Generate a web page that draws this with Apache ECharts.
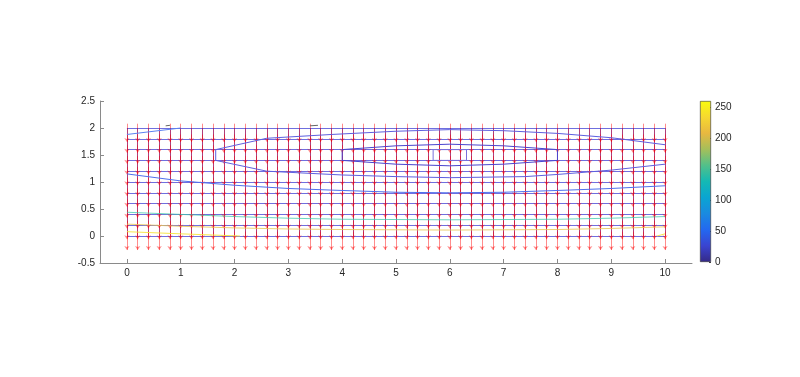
<!DOCTYPE html>
<html>
<head>
<meta charset="utf-8">
<script src="https://cdn.jsdelivr.net/npm/echarts@6/dist/echarts.min.js"></script>
<style>
html,body{margin:0;padding:0;background:#fff;}
#chart{width:800px;height:377px;}
</style>
</head>
<body>
<div id="chart"></div>
<script>
// ---- tick labels ----
const xTicks = [0,1,2,3,4,5,6,7,8,9,10];
const yTicks = [-0.5,0,0.5,1,1.5,2,2.5];
const colorTicks = [0,50,100,150,200,250];
const colorMin = 0, colorMax = 260;

// ---- mesh grid (x, y nodes) ----
const meshX = [0,0.2,0.4,0.6,0.8,1,1.2,1.4,1.6,1.8,2,2.2,2.4,2.6,2.8,3,3.2,3.4,3.6,3.8,4,4.2,4.4,4.6,4.8,5,5.2,5.4,5.6,5.8,6,6.2,6.4,6.6,6.8,7,7.2,7.4,7.6,7.8,8,8.2,8.4,8.6,8.8,9,9.2,9.4,9.6,9.8,10];
const meshY = [0,0.2,0.4,0.6,0.8,1,1.2,1.4,1.6,1.8,2];

// ---- quiver: arrow start heights per row and vertical component ----
const quiverStartY = [0.08,0.28,0.48,0.68,0.88,1.08,1.28,1.48,1.68,1.88,2.08];
const quiverV = [-0.34,-0.34,-0.34,-0.34,-0.34,-0.34,-0.34,-0.34,-0.34,-0.34,-0.34];

// ---- contour lines ----
const contourA = [[0,1.88],[1,2.0]];
const contourB = [[10,1.69],[9,1.82],[8,1.9],[7,1.95],[6,1.97],[5,1.94],[3.8,1.88],[2.6,1.81],[1.65,1.6],
                  [1.65,1.4],[2.6,1.2],[4,1.13],[5,1.1],[6,1.08],[7.4,1.1],[8,1.14],[9,1.22],[10,1.33]];
const contourC = [[4,1.6],[5,1.67],[6,1.7],[7,1.67],[8,1.6],[8,1.4],[7,1.33],[6,1.3],[5,1.33],[4,1.4],[4,1.6]];
const contourD = [[5.69,1.6],[6.31,1.6],[6.31,1.4],[5.69,1.4],[5.69,1.6]];
const contourE = [[0,1.15],[1,1.02],[2,0.94],[3,0.88],[3.8,0.85],[5,0.81],[6,0.8],[7,0.81],[8.2,0.85],[9,0.88],[10,0.93]];
const contourF = [[0,0.44],[1,0.4],[2,0.36],[3,0.33],[4,0.31],[6,0.3],[8,0.31],[9,0.33],[10,0.36]];
const contourG = [[0,0.22],[1,0.18],[2,0.15],[3,0.13],[4,0.12],[6,0.11],[8,0.12],[9,0.14],[10,0.17]];
const contourH1 = [[0,0.08],[1,0.04],[2.1,0]];
const contourH2 = [[9.85,0],[10,0.04]];
const smallMark1 = [[0.72,2.04],[0.8,2.05]];
const smallMark2 = [[3.4,2.04],[3.55,2.05]];

// parula colormap stops
const parula = [
  [0.0,'#352a87'],[0.1,'#3a44d0'],[0.2,'#2368f0'],[0.3,'#1a8ae0'],[0.4,'#0aa5d2'],
  [0.5,'#14b9b4'],[0.6,'#52c08a'],[0.7,'#a5bf5a'],[0.8,'#e8b840'],[0.9,'#f6d830'],[1.0,'#f9fb0e']
];

const chart = echarts.init(document.getElementById('chart'), null, {renderer:'canvas'});

const meshLines = [];
meshY.forEach(y => meshLines.push({coords:[[meshX[0],y],[meshX[meshX.length-1],y]]}));
meshX.forEach(x => meshLines.push({coords:[[x,meshY[0]],[x,meshY[meshY.length-1]]]}));

const arrows = [];
meshX.forEach(x => {
  quiverStartY.forEach((y0,i) => {
    arrows.push({coords:[[x,y0],[x,y0+quiverV[i]]]});
  });
});

function contour(data, color, width) {
  return {
    type:'line', xAxisIndex:0, yAxisIndex:0, data:data, showSymbol:false, symbol:'none',
    lineStyle:{color:color, width:width||1}, silent:true, animation:false, z:6
  };
}

const axisCol = '#8a8a8a';
const labelCol = '#262626';
const font = 'Liberation Sans, Arial, sans-serif';

chart.setOption({
  animation:false,
  backgroundColor:'#fff',
  grid:[
    {left:100, right:108, top:101, bottom:114},
    {left:700, width:11, top:101, height:161}
  ],
  xAxis:[
    {type:'value', gridIndex:0, min:-0.5, max:10.5,
     axisLine:{show:true, onZero:false, lineStyle:{color:axisCol, width:1}},
     axisTick:{show:true, inside:true, length:4, customValues:xTicks, lineStyle:{color:axisCol}},
     axisLabel:{customValues:xTicks, color:labelCol, fontSize:10, fontFamily:font, margin:5},
     splitLine:{show:false}},
    {type:'category', gridIndex:1, data:['c'], show:false, boundaryGap:true}
  ],
  yAxis:[
    {type:'value', gridIndex:0, min:-0.5, max:2.5, interval:0.5,
     axisLine:{show:true, onZero:false, lineStyle:{color:axisCol, width:1}},
     axisTick:{show:true, inside:true, length:4, customValues:yTicks, lineStyle:{color:axisCol}},
     axisLabel:{customValues:yTicks, color:labelCol, fontSize:10, fontFamily:font, margin:5},
     splitLine:{show:false}},
    {type:'value', gridIndex:1, min:colorMin, max:colorMax, position:'right',
     axisLine:{show:false},
     axisTick:{show:true, inside:true, length:2, customValues:colorTicks, lineStyle:{color:'#444'}},
     axisLabel:{customValues:colorTicks, color:labelCol, fontSize:10, fontFamily:font, margin:4},
     splitLine:{show:false}}
  ],
  series:[
    {type:'lines', coordinateSystem:'cartesian2d', xAxisIndex:0, yAxisIndex:0, data:meshLines,
     lineStyle:{color:'rgba(50,50,210,0.7)', width:1, opacity:1}, silent:true, z:1, animation:false},
    {type:'lines', coordinateSystem:'cartesian2d', xAxisIndex:0, yAxisIndex:0, data:arrows,
     symbol:['none','arrow'], symbolSize:[3,4],
     lineStyle:{color:'rgba(255,0,0,0.45)', width:1, opacity:1}, silent:true, z:4, animation:false},
    contour(contourB, '#5e5fe0'),
    contour(contourC, '#4a45cf'),
    contour(contourD, '#7a70dc'),
    contour(contourA, '#5c82f2'),
    contour(contourE, '#4f70ee'),
    contour(contourF, 'rgba(60,200,170,0.75)'),
    contour(contourG, 'rgba(232,196,80,0.8)'),
    contour(contourH1, 'rgba(245,228,60,0.9)'),
    contour(contourH2, 'rgba(245,228,60,0.9)'),
    contour(smallMark1, '#666'),
    contour(smallMark2, '#666'),
    {type:'bar', xAxisIndex:1, yAxisIndex:1, data:[colorMax], barWidth:'100%', silent:true,
     itemStyle:{color:new echarts.graphic.LinearGradient(0,1,0,0, parula.map(s=>({offset:s[0], color:s[1]}))),
                borderColor:'#333', borderWidth:0.6}}
  ]
});
</script>
</body>
</html>
